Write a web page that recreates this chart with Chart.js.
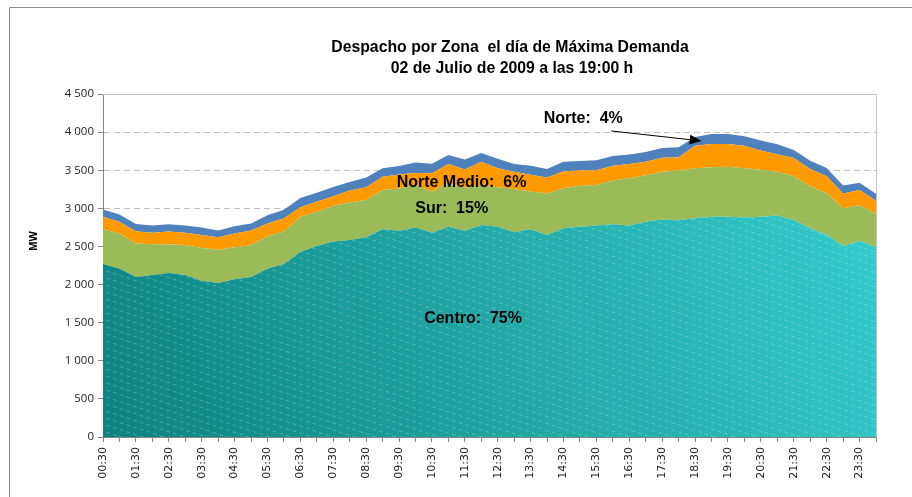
<!DOCTYPE html>
<html>
<head>
<meta charset="utf-8">
<script src="https://cdn.jsdelivr.net/npm/chart.js@4/dist/chart.umd.min.js"></script>
<style>
  html, body { margin: 0; padding: 0; background: #fff; }
  #wrap { position: relative; width: 912px; height: 497px; }
</style>
</head>
<body>
<div id="wrap"><canvas id="myChart" width="912" height="497"></canvas></div>
<script>
const horas = ["00:30","01:00","01:30","02:00","02:30","03:00","03:30","04:00","04:30","05:00",
  "05:30","06:00","06:30","07:00","07:30","08:00","08:30","09:00","09:30","10:00",
  "10:30","11:00","11:30","12:00","12:30","13:00","13:30","14:00","14:30","15:00",
  "15:30","16:00","16:30","17:00","17:30","18:00","18:30","19:00","19:30","20:00",
  "20:30","21:00","21:30","22:00","22:30","23:00","23:30","24:00"];

// MW por zona
const centro = [2270,2210,2100,2125,2150,2125,2050,2020,2070,2100,2210,2270,2430,2505,2565,2585,2620,2725,2705,2750,
  2680,2760,2705,2780,2760,2685,2725,2650,2740,2760,2775,2790,2775,2825,2855,2845,2870,2890,2890,2880,
  2890,2905,2845,2740,2650,2505,2570,2490];
const sur = [455,460,440,405,375,395,430,435,420,415,425,425,460,450,470,490,490,515,555,555,
  540,570,565,520,515,570,495,545,525,535,530,575,615,610,625,650,655,650,655,645,
  615,575,580,545,550,495,470,440];
const norteMedio = [165,155,160,150,170,160,170,165,180,195,165,175,125,130,125,160,165,175,185,160,
  240,250,240,310,250,225,220,210,220,200,195,195,190,175,185,175,295,305,300,295,
  255,230,235,230,220,195,200,170];
const norte = [95,95,95,95,95,95,100,90,95,90,110,110,120,120,120,110,130,110,110,135,
  125,120,130,115,125,100,120,110,125,125,130,125,125,130,125,130,115,130,130,125,
  130,130,105,110,110,105,95,90];

const yTicks = [0, 500, 1000, 1500, 2000, 2500, 3000, 3500, 4000, 4500];

const tituloLineas = ["Despacho por Zona  el día de Máxima Demanda", "02 de Julio de 2009 a las 19:00 h"];
// etiquetas dentro del grafico: [texto, indice x, valor y]
const etiquetas = [
  ["Norte:  4%", 29.2, 4172],
  ["Norte Medio:  6%", 21.8, 3332],
  ["Sur:  15%", 21.2, 2991],
  ["Centro:  75%", 22.5, 1548]
];
const flecha = { desde: [30.9, 4015], hasta: [36.4, 3884] };

let cachePattern = null;
function centroFill(context) {
  const chart = context.chart;
  const a = chart.chartArea;
  if (!a) return "#22AAA8";
  const key = [a.left, a.top, a.right, a.bottom].join(",");
  if (cachePattern && cachePattern.key === key) return cachePattern.p;
  const c = document.createElement("canvas");
  c.width = chart.width; c.height = chart.height;
  const g = c.getContext("2d");
  const grad = g.createLinearGradient(a.left, a.bottom, a.right, a.top);
  grad.addColorStop(0, "#0D827F");
  grad.addColorStop(1, "#36D0D0");
  g.fillStyle = grad;
  g.fillRect(0, 0, c.width, c.height);
  g.strokeStyle = "rgba(255,255,255,0.25)";
  g.lineWidth = 1;
  g.setLineDash([4, 3]);
  g.beginPath();
  for (let k = -c.width; k < c.height; k += 7) {
    g.moveTo(0, k);
    g.lineTo(c.width, k + c.width * 0.33);
  }
  g.stroke();
  cachePattern = { key: key, p: chart.ctx.createPattern(c, "no-repeat") };
  return cachePattern.p;
}

const decoracion = {
  id: "decoracion",
  beforeDraw(chart) {
    const ctx = chart.ctx;
    ctx.save();
    ctx.strokeStyle = "#8A8A8A";
    ctx.lineWidth = 1;
    ctx.beginPath();
    ctx.moveTo(9.5, 497); ctx.lineTo(9.5, 7.5); ctx.lineTo(912, 7.5);
    ctx.stroke();
    ctx.restore();
  },
  afterDraw(chart) {
    const ctx = chart.ctx;
    const a = chart.chartArea;
    const x = chart.scales.x, y = chart.scales.y;
    ctx.save();
    // borde superior y derecho del area
    ctx.strokeStyle = "#C4C4C4";
    ctx.lineWidth = 1;
    ctx.beginPath();
    ctx.moveTo(a.left, Math.round(a.top) + 0.5);
    ctx.lineTo(Math.round(a.right) + 0.5, Math.round(a.top) + 0.5);
    ctx.lineTo(Math.round(a.right) + 0.5, a.bottom);
    ctx.stroke();

    // titulo (letra algo estrecha)
    ctx.fillStyle = "#000";
    ctx.textAlign = "center";
    ctx.textBaseline = "middle";
    ctx.font = "bold 17px 'Liberation Sans', Arial, sans-serif";
    [[tituloLineas[0], 510, 47], [tituloLineas[1], 512, 68]].forEach(function (t) {
      ctx.save();
      ctx.translate(t[1], t[2]);
      ctx.scale(0.93, 1);
      ctx.fillText(t[0], 0, 0);
      ctx.restore();
    });

    // titulo eje Y
    ctx.save();
    ctx.translate(34, 241);
    ctx.rotate(-Math.PI / 2);
    ctx.font = "bold 11px 'Liberation Sans', Arial, sans-serif";
    ctx.fillText("MW", 0, 0);
    ctx.restore();

    // etiquetas de zona
    ctx.font = "bold 16px 'Liberation Sans', Arial, sans-serif";
    etiquetas.forEach(function (e) {
      ctx.fillText(e[0], x.getPixelForValue(e[1]), y.getPixelForValue(e[2]));
    });

    // flecha
    const x0 = x.getPixelForValue(flecha.desde[0]), y0 = y.getPixelForValue(flecha.desde[1]);
    const x1 = x.getPixelForValue(flecha.hasta[0]), y1 = y.getPixelForValue(flecha.hasta[1]);
    const ang = Math.atan2(y1 - y0, x1 - x0);
    const len = 12, half = 5;
    const bx = x1 - len * Math.cos(ang), by = y1 - len * Math.sin(ang);
    ctx.strokeStyle = "#000";
    ctx.lineWidth = 1;
    ctx.beginPath();
    ctx.moveTo(x0, y0); ctx.lineTo(bx, by);
    ctx.stroke();
    ctx.beginPath();
    ctx.moveTo(x1, y1);
    ctx.lineTo(bx + half * Math.sin(ang), by - half * Math.cos(ang));
    ctx.lineTo(bx - half * Math.sin(ang), by + half * Math.cos(ang));
    ctx.closePath();
    ctx.fill();
    ctx.restore();
  }
};

const data = {
  labels: horas,
  datasets: [
    { label: "Centro", data: centro, backgroundColor: centroFill, fill: "origin" },
    { label: "Sur", data: sur, backgroundColor: "#9BBB59", fill: "-1" },
    { label: "Norte Medio", data: norteMedio, backgroundColor: "#FF9A00", fill: "-1" },
    { label: "Norte", data: norte, backgroundColor: "#4F81BD", fill: "-1" }
  ]
};

const config = {
  type: "line",
  data: data,
  options: {
    responsive: false,
    animation: false,
    events: [],
    layout: { padding: { left: 43, right: 36, top: 94, bottom: 0 } },
    elements: {
      point: { radius: 0 },
      line: { borderWidth: 0, tension: 0 }
    },
    plugins: { legend: { display: false }, tooltip: { enabled: false } },
    scales: {
      x: {
        offset: false,
        grid: { drawOnChartArea: false, tickLength: 5, tickColor: "#868686" },
        border: { color: "#868686" },
        ticks: {
          autoSkip: false,
          maxRotation: 90,
          minRotation: 90,
          padding: 5,
          color: "#222",
          font: { family: "'DejaVu Sans', sans-serif", size: 11 },
          callback: function (v, i) { return i % 2 === 0 ? horas[i] : ""; }
        },
        afterFit: function (s) { s.height = 60; }
      },
      y: {
        stacked: true,
        min: yTicks[0],
        max: yTicks[yTicks.length - 1],
        afterBuildTicks: function (s) { s.ticks = yTicks.map(function (v) { return { value: v }; }); },
        grid: { color: "#BFBFBF", tickColor: "#868686", tickLength: 5 },
        border: { color: "#868686", dash: [6, 4] },
        ticks: {
          padding: 4,
          color: "#222",
          font: { family: "'Open Sans', sans-serif", size: 11.5 },
          callback: function (v) { return String(v).replace(/\B(?=(\d{3})+(?!\d))/g, " "); }
        },
        afterFit: function (s) { s.width = 60; }
      }
    }
  },
  plugins: [decoracion]
};

const chart = new Chart(document.getElementById("myChart"), config);
</script>
</body>
</html>
